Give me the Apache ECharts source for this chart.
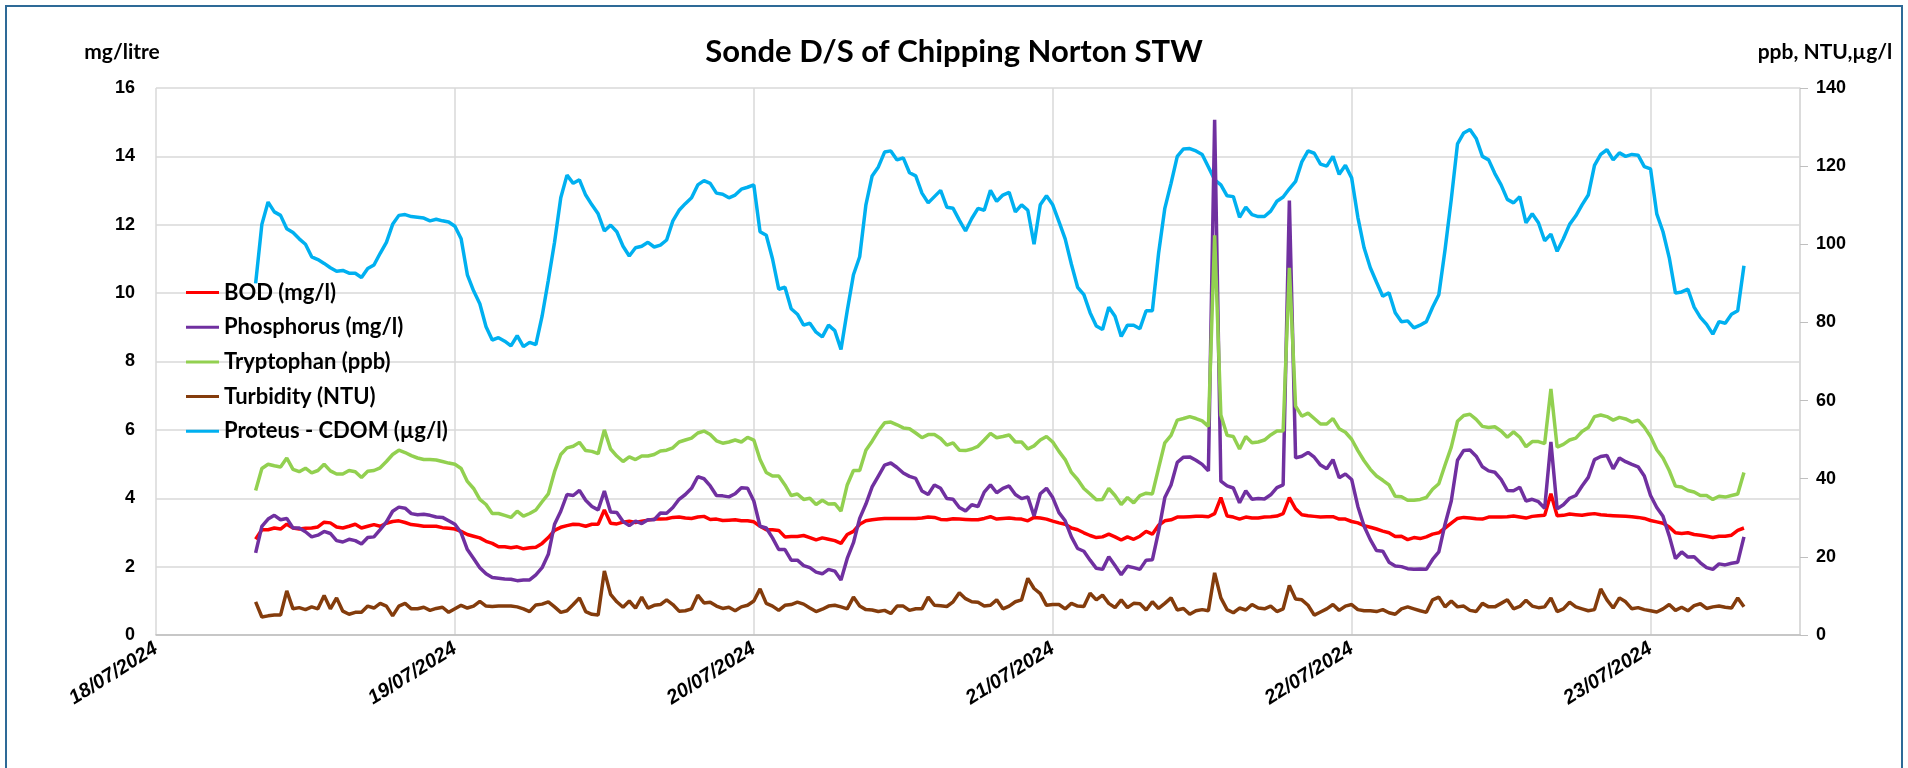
<!DOCTYPE html>
<html>
<head>
<meta charset="utf-8">
<title>Sonde D/S of Chipping Norton STW</title>
<script src="https://cdn.jsdelivr.net/npm/echarts@6/dist/echarts.min.js"></script>
<style>
  html, body { margin: 0; padding: 0; background: #fff; }
  #chart { width: 1908px; height: 768px; }
</style>
</head>
<body>
<div id="chart"></div>
<script>
// x positions: hours since 18/07/2024 00:00, a reading every half hour (08:00 18/07 .. 07:30 23/07)
var hours = [];
for (var i = 0; i < 240; i++) hours.push(8 + i * 0.5);

var dayLabels = ['18/07/2024', '19/07/2024', '20/07/2024', '21/07/2024', '22/07/2024', '23/07/2024'];

// left axis (mg/l) - one row = 12 hours
var bod = [
  2.8, 3.08, 3.08, 3.13, 3.10, 3.24, 3.13, 3.10, 3.12, 3.13, 3.16, 3.30, 3.28, 3.16, 3.13, 3.18, 3.24, 3.13, 3.18, 3.23, 3.18, 3.27, 3.32, 3.34,
  3.29, 3.23, 3.21, 3.18, 3.18, 3.18, 3.14, 3.12, 3.10, 3.03, 2.94, 2.89, 2.84, 2.74, 2.68, 2.58, 2.58, 2.55, 2.58, 2.52, 2.55, 2.57, 2.68, 2.85,
  3.06, 3.15, 3.20, 3.24, 3.23, 3.18, 3.24, 3.24, 3.66, 3.27, 3.25, 3.30, 3.33, 3.29, 3.33, 3.36, 3.39, 3.39, 3.40, 3.44, 3.45, 3.42, 3.41, 3.45,
  3.47, 3.38, 3.39, 3.35, 3.36, 3.37, 3.34, 3.34, 3.31, 3.18, 3.08, 3.08, 3.06, 2.87, 2.88, 2.88, 2.91, 2.85, 2.78, 2.84, 2.80, 2.76, 2.68, 2.94,
  3.03, 3.24, 3.34, 3.37, 3.39, 3.41, 3.41, 3.41, 3.41, 3.41, 3.41, 3.42, 3.45, 3.44, 3.38, 3.37, 3.40, 3.39, 3.38, 3.37, 3.37, 3.41, 3.46, 3.39,
  3.41, 3.42, 3.40, 3.39, 3.34, 3.44, 3.42, 3.39, 3.33, 3.28, 3.24, 3.13, 3.08, 2.99, 2.91, 2.85, 2.87, 2.95, 2.87, 2.78, 2.87, 2.80, 2.89, 3.03,
  2.95, 3.21, 3.34, 3.37, 3.45, 3.45, 3.46, 3.47, 3.47, 3.46, 3.55, 4.02, 3.48, 3.45, 3.39, 3.45, 3.42, 3.42, 3.45, 3.46, 3.48, 3.55, 4.02, 3.69,
  3.52, 3.49, 3.47, 3.45, 3.46, 3.46, 3.39, 3.39, 3.32, 3.28, 3.20, 3.15, 3.10, 3.04, 2.99, 2.88, 2.89, 2.79, 2.85, 2.82, 2.87, 2.95, 2.99, 3.13,
  3.27, 3.41, 3.44, 3.42, 3.40, 3.39, 3.45, 3.45, 3.45, 3.46, 3.48, 3.45, 3.42, 3.47, 3.49, 3.50, 4.13, 3.49, 3.50, 3.54, 3.52, 3.50, 3.53, 3.55,
  3.52, 3.50, 3.49, 3.48, 3.47, 3.46, 3.44, 3.41, 3.35, 3.31, 3.27, 3.16, 2.99, 2.97, 2.99, 2.94, 2.92, 2.89, 2.85, 2.89, 2.89, 2.92, 3.06, 3.13
];
var phosphorus = [
  2.4, 3.18, 3.39, 3.50, 3.37, 3.41, 3.13, 3.13, 3.02, 2.87, 2.92, 3.03, 2.97, 2.76, 2.72, 2.80, 2.76, 2.66, 2.85, 2.87, 3.08, 3.31, 3.62, 3.74,
  3.71, 3.55, 3.52, 3.53, 3.50, 3.45, 3.44, 3.34, 3.24, 2.99, 2.50, 2.24, 1.97, 1.79, 1.68, 1.66, 1.64, 1.63, 1.59, 1.61, 1.61, 1.76, 1.97, 2.36,
  3.24, 3.62, 4.11, 4.08, 4.23, 3.94, 3.76, 3.66, 4.21, 3.60, 3.58, 3.32, 3.20, 3.33, 3.26, 3.37, 3.37, 3.57, 3.56, 3.73, 3.97, 4.11, 4.29, 4.63,
  4.57, 4.36, 4.08, 4.07, 4.04, 4.13, 4.31, 4.29, 3.92, 3.18, 3.13, 2.84, 2.50, 2.50, 2.19, 2.19, 2.03, 1.97, 1.84, 1.79, 1.92, 1.87, 1.61, 2.24,
  2.7, 3.41, 3.83, 4.33, 4.65, 4.97, 5.03, 4.90, 4.74, 4.64, 4.58, 4.21, 4.11, 4.39, 4.29, 3.99, 3.97, 3.73, 3.63, 3.81, 3.76, 4.18, 4.39, 4.16,
  4.29, 4.36, 4.11, 3.99, 4.04, 3.48, 4.13, 4.29, 4.02, 3.58, 3.34, 2.87, 2.53, 2.45, 2.19, 1.95, 1.92, 2.29, 2.03, 1.76, 2.01, 1.97, 1.92, 2.19,
  2.2, 3.03, 4.02, 4.39, 5.05, 5.20, 5.21, 5.11, 4.99, 4.80, 15.07, 4.5, 4.36, 4.30, 3.87, 4.22, 3.97, 3.99, 3.98, 4.10, 4.31, 4.39, 12.71, 5.18,
  5.23, 5.34, 5.20, 4.97, 4.86, 5.13, 4.60, 4.71, 4.55, 3.76, 3.18, 2.79, 2.47, 2.45, 2.13, 2.02, 2.00, 1.94, 1.92, 1.93, 1.92, 2.21, 2.43, 3.24,
  3.92, 5.11, 5.40, 5.41, 5.23, 4.92, 4.80, 4.76, 4.55, 4.23, 4.22, 4.32, 3.92, 3.97, 3.90, 3.71, 5.65, 3.69, 3.81, 4.00, 4.08, 4.36, 4.61, 5.13,
  5.22, 5.25, 4.86, 5.18, 5.07, 4.99, 4.92, 4.65, 4.08, 3.73, 3.47, 2.90, 2.24, 2.43, 2.28, 2.29, 2.11, 1.97, 1.92, 2.08, 2.05, 2.10, 2.13, 2.87
];

// right axis (ppb, NTU, µg/l)
var tryptophan = [
  37, 42.6, 43.7, 43.3, 43.0, 45.3, 42.4, 41.8, 42.7, 41.5, 42.1, 43.7, 42.0, 41.2, 41.2, 42.1, 41.8, 40.3, 41.9, 42.1, 42.8, 44.4, 46.2, 47.3,
  46.7, 45.9, 45.3, 44.9, 44.9, 44.8, 44.4, 44.0, 43.7, 42.6, 39.3, 37.5, 34.7, 33.4, 31.1, 31.1, 30.6, 30.1, 31.7, 30.4, 31.1, 32.0, 34.1, 36.1,
  41.8, 46.2, 47.9, 48.3, 49.3, 47.2, 47.0, 46.4, 52.5, 47.6, 45.8, 44.4, 45.6, 44.9, 45.8, 45.8, 46.2, 47.1, 47.3, 47.9, 49.4, 49.9, 50.4, 51.7,
  52.2, 51.3, 49.7, 49.1, 49.4, 49.9, 49.4, 50.6, 49.9, 44.9, 41.6, 40.7, 40.7, 38.4, 35.7, 36.1, 34.7, 35.0, 33.4, 34.5, 33.5, 33.6, 31.7, 38.4,
  42.1, 42.1, 47.3, 49.6, 52.2, 54.3, 54.5, 53.8, 53.0, 52.8, 51.7, 50.5, 51.3, 51.3, 50.3, 48.6, 49.2, 47.3, 47.2, 47.6, 48.3, 49.9, 51.6, 50.5,
  50.8, 51.2, 49.4, 49.4, 47.6, 48.4, 49.9, 50.8, 49.4, 47.0, 44.9, 41.6, 39.8, 37.5, 36.1, 34.6, 34.7, 37.5, 35.7, 33.4, 35.2, 33.8, 35.7, 36.3,
  36.1, 42.7, 49.2, 51.1, 55.0, 55.4, 55.9, 55.4, 54.8, 53.4, 102.3, 56.3, 51.1, 50.8, 47.6, 50.8, 49.2, 49.4, 49.9, 51.2, 52.2, 52.2, 94.0, 58.6,
  56.0, 56.8, 55.4, 54.0, 54.0, 55.4, 52.8, 51.9, 50.1, 47.2, 44.6, 42.4, 40.7, 39.6, 38.4, 35.5, 35.4, 34.5, 34.5, 34.7, 35.2, 37.3, 38.7, 43.5,
  48.1, 54.7, 56.2, 56.5, 55.2, 53.4, 53.1, 53.3, 52.2, 50.6, 52.0, 50.6, 48.2, 49.5, 49.5, 49.0, 63.0, 48.1, 48.8, 49.9, 50.4, 52.1, 53.1, 55.9,
  56.3, 55.9, 55.0, 55.7, 55.3, 54.5, 55.0, 53.2, 50.8, 47.4, 45.3, 42.1, 38.1, 37.9, 37.0, 36.6, 35.7, 35.7, 34.7, 35.5, 35.3, 35.7, 36.1, 41.6
];
var turbidity = [
  8.5, 4.6, 4.9, 5.1, 5.1, 11.3, 6.7, 7.0, 6.5, 7.2, 6.7, 10.1, 6.7, 9.5, 6.1, 5.3, 5.8, 5.8, 7.4, 6.9, 8.1, 7.4, 4.9, 7.4,
  8.1, 6.7, 6.7, 7.1, 6.3, 6.8, 7.1, 5.8, 6.7, 7.6, 6.9, 7.4, 8.6, 7.4, 7.3, 7.4, 7.4, 7.4, 7.2, 6.7, 6.0, 7.7, 7.9, 8.5,
  7.2, 5.8, 6.2, 7.8, 9.5, 6.0, 5.3, 5.1, 16.4, 10.4, 8.5, 7.1, 8.7, 6.9, 9.7, 6.9, 7.6, 7.8, 9.0, 7.8, 6.1, 6.2, 6.7, 10.2,
  8.2, 8.4, 7.4, 6.8, 7.1, 6.2, 7.2, 7.6, 8.7, 11.8, 8.1, 7.4, 6.3, 7.6, 7.8, 8.4, 7.9, 6.9, 6.0, 6.6, 7.4, 7.6, 7.2, 6.7,
  9.7, 7.4, 6.5, 6.4, 6.0, 6.3, 5.5, 7.4, 7.4, 6.3, 6.7, 6.7, 9.7, 7.6, 7.5, 7.3, 8.5, 10.8, 9.3, 8.5, 8.4, 7.4, 7.6, 9.0,
  6.7, 7.4, 8.5, 9.0, 14.5, 11.9, 10.6, 7.6, 7.8, 7.8, 6.7, 8.1, 7.4, 7.3, 10.7, 9.0, 10.2, 8.1, 7.0, 9.0, 7.0, 8.1, 8.0, 6.4,
  8.5, 6.8, 8.1, 9.5, 6.4, 6.8, 5.3, 6.2, 6.5, 6.2, 15.9, 9.5, 6.5, 5.7, 6.9, 6.4, 7.8, 6.9, 6.7, 7.4, 6.0, 6.7, 12.7, 9.2,
  9.0, 7.6, 5.1, 5.9, 6.7, 7.8, 6.3, 7.4, 7.8, 6.5, 6.2, 6.2, 6.0, 6.5, 5.7, 5.3, 6.7, 7.2, 6.7, 6.2, 5.8, 9.0, 9.7, 7.2,
  8.7, 7.2, 7.4, 6.3, 6.0, 8.1, 7.2, 7.2, 8.1, 9.0, 6.7, 7.3, 8.9, 7.4, 7.0, 7.2, 9.5, 6.0, 6.7, 8.4, 7.2, 6.7, 6.2, 6.5,
  11.8, 9.0, 6.9, 9.5, 8.5, 6.7, 7.0, 6.5, 6.2, 5.9, 6.7, 7.8, 6.3, 7.1, 6.2, 7.5, 8.0, 6.8, 7.2, 7.4, 7.1, 6.9, 9.5, 7.2
];
var cdom = [
  90, 105.1, 110.8, 108.3, 107.4, 104.0, 103.0, 101.4, 100.0, 96.8, 96.1, 95.1, 94.0, 93.1, 93.3, 92.6, 92.6, 91.5, 93.8, 94.7, 97.7, 100.5, 105.1, 107.4,
  107.6, 107.1, 106.9, 106.7, 106.0, 106.4, 106.0, 105.7, 104.6, 101.4, 92.2, 88.1, 84.8, 78.9, 75.5, 76.1, 75.2, 74.0, 76.6, 73.8, 74.9, 74.3, 81.6, 90.8,
  100.5, 111.9, 117.7, 115.6, 116.5, 112.6, 110.1, 107.8, 103.4, 104.9, 103.2, 99.5, 97.0, 99.1, 99.5, 100.5, 99.3, 99.8, 101.1, 106.0, 108.7, 110.4, 111.9, 115.2,
  116.3, 115.6, 113.1, 112.8, 111.9, 112.6, 114.1, 114.6, 115.2, 103.2, 102.3, 96.3, 88.5, 89.0, 83.5, 82.1, 79.3, 79.8, 77.5, 76.3, 79.3, 77.9, 73.1, 83.0,
  92.2, 96.8, 110.1, 117.5, 119.8, 123.6, 123.9, 121.6, 122.1, 118.3, 117.5, 113.1, 110.6, 112.2, 113.8, 109.5, 109.2, 106.2, 103.4, 106.6, 109.2, 108.7, 113.8, 111.0,
  112.6, 113.3, 108.3, 110.1, 108.7, 100.0, 110.1, 112.4, 110.1, 105.8, 101.4, 94.9, 89.0, 87.1, 82.5, 79.1, 78.2, 83.9, 81.6, 76.4, 79.3, 79.3, 78.4, 83.0,
  83.0, 97.7, 109.2, 115.6, 122.5, 124.4, 124.5, 123.9, 123.0, 119.8, 116.5, 115.2, 112.4, 112.2, 106.9, 109.5, 107.6, 107.1, 107.1, 108.5, 111.0, 112.1, 114.2, 116.1,
  121.1, 123.9, 123.3, 120.5, 120.0, 122.5, 117.9, 120.2, 117.0, 106.9, 99.1, 94.0, 90.3, 86.7, 87.6, 82.5, 80.2, 80.4, 78.6, 79.3, 80.2, 83.9, 87.1, 98.6,
  111.5, 125.7, 128.5, 129.4, 127.1, 122.5, 121.6, 118.1, 115.2, 111.5, 110.6, 112.2, 105.5, 107.8, 105.5, 100.9, 102.6, 98.2, 101.4, 105.1, 107.3, 110.1, 112.6, 120.2,
  123.0, 124.2, 121.6, 123.4, 122.5, 123.0, 122.8, 119.9, 119.3, 107.8, 103.2, 96.6, 87.5, 87.8, 88.5, 83.9, 81.3, 79.5, 77.0, 80.2, 79.8, 82.1, 83.0, 94.5
];

function pairs(vals) {
  return vals.map(function (v, i) { return [hours[i], v]; });
}

function lineSeries(name, vals, axis, color) {
  return {
    name: name,
    type: 'line',
    yAxisIndex: axis,
    data: pairs(vals),
    symbol: 'none',
    lineStyle: { color: color, width: 3.5 },
    itemStyle: { color: color }
  };
}

var labelFont = 'Liberation Sans';
var textFont = 'Lato';

var chart = echarts.init(document.getElementById('chart'));
var option = {
  animation: false,
  backgroundColor: '#fff',
  title: {
    text: 'Sonde D/S of Chipping Norton STW',
    left: 'center',
    top: 36,
    padding: [0, 0, 0, 31],
    textStyle: { fontFamily: textFont, fontWeight: 'bold', fontSize: 31, color: '#000' }
  },
  legend: {
    orient: 'vertical',
    left: 186,
    top: 281,
    padding: 0,
    data: ['BOD (mg/l)', 'Phosphorus (mg/l)', 'Tryptophan (ppb)', 'Turbidity (NTU)', 'Proteus - CDOM (µg/l)'],
    icon: 'rect',
    itemWidth: 33,
    itemHeight: 3,
    itemGap: 11.7,
    textStyle: { fontFamily: textFont, fontWeight: 'bold', fontSize: 22, color: '#000', lineHeight: 23 }
  },
  grid: { left: 156, right: 108, top: 88, bottom: 133 },
  xAxis: {
    type: 'value',
    min: 0,
    max: 132,
    interval: 24,
    axisLine: { show: true, lineStyle: { color: '#BFBFBF', width: 1.5 } },
    axisTick: { show: false },
    splitLine: { show: true, lineStyle: { color: '#D9D9D9', width: 1.5 } },
    axisLabel: {
      rotate: 32,
      margin: 12,
      fontFamily: labelFont,
      fontWeight: 'bold',
      fontStyle: 'italic',
      fontSize: 20,
      color: '#000',
      formatter: function (v) { return v % 24 === 0 ? dayLabels[v / 24] : ''; }
    }
  },
  yAxis: [
    {
      type: 'value',
      min: 0,
      max: 16,
      interval: 2,
      position: 'left',
      axisLine: { show: false },
      axisTick: { show: false },
      splitLine: { show: true, lineStyle: { color: '#D9D9D9', width: 1.5 } },
      axisLabel: { margin: 21, fontFamily: labelFont, fontWeight: 'bold', fontSize: 18, color: '#000' }
    },
    {
      type: 'value',
      min: 0,
      max: 140,
      interval: 20,
      position: 'right',
      axisLine: { show: true, lineStyle: { color: '#D9D9D9', width: 1.5 } },
      axisTick: { show: true, length: 8, lineStyle: { color: '#BFBFBF' } },
      splitLine: { show: false },
      axisLabel: { margin: 16, fontFamily: labelFont, fontWeight: 'bold', fontSize: 18, color: '#000' }
    }
  ],
  graphic: [
    {
      type: 'rect',
      silent: true,
      shape: { x: 6, y: 6, width: 1896, height: 800 },
      style: { fill: 'none', stroke: '#2E6A97', lineWidth: 2 }
    },
    {
      type: 'text',
      x: 122,
      y: 52,
      style: { text: 'mg/litre', align: 'center', verticalAlign: 'middle', font: 'bold 21px Lato', fill: '#000' }
    },
    {
      type: 'text',
      x: 1825,
      y: 52,
      style: { text: 'ppb, NTU,µg/l', align: 'center', verticalAlign: 'middle', font: 'bold 21px Lato', fill: '#000' }
    }
  ],
  series: [
    lineSeries('Proteus - CDOM (µg/l)', cdom, 1, '#00B0F0'),
    lineSeries('Turbidity (NTU)', turbidity, 1, '#843C0C'),
    lineSeries('BOD (mg/l)', bod, 0, '#FF0000'),
    lineSeries('Phosphorus (mg/l)', phosphorus, 0, '#7030A0'),
    lineSeries('Tryptophan (ppb)', tryptophan, 1, '#92D050')
  ]
};
chart.setOption(option);
window.addEventListener('resize', function () {
  chart.resize();
});
</script>
</body>
</html>
